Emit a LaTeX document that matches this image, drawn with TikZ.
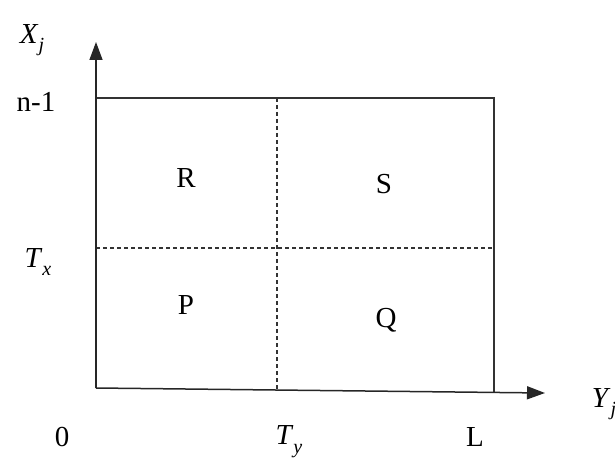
\documentclass[tikz,border=0pt]{standalone}
\usepackage{fontspec}
\setmainfont{Liberation Serif}
\usetikzlibrary{arrows.meta}
\newcommand{\vlab}[2]{\textit{#1}\raisebox{-0.3em}{\fontsize{20}{22}\selectfont\textit{#2}}}
\begin{document}
\begin{tikzpicture}[x=1pt,y=-1pt,
  lbl/.style={font=\fontsize{29}{32}\selectfont, inner sep=0pt},
  axis/.style={line width=1.5pt, draw=black!85, -{Triangle[length=18pt,width=13pt]}},
  frame/.style={line width=1.3pt, draw=black!80},
  div/.style={line width=1.1pt, dash pattern=on 4pt off 3pt, draw=black!80}]
\useasboundingbox (0,0) rectangle (615,465);
\coordinate (O) at (96,388);
\coordinate (ytop) at (96,42);
\coordinate (xend) at (545,393);
\coordinate (TL) at (96,98);
\coordinate (TR) at (494,98);
\coordinate (BR) at (494,392);
\coordinate (vt) at (277,98);
\coordinate (vb) at (277,391);
\coordinate (hl) at (96,248);
\coordinate (hr) at (494,248);
\draw[frame] (TL) -- (TR) -- (BR);
\draw[div] (vt) -- (vb);
\draw[div] (hl) -- (hr);
\draw[axis] (O) -- (ytop);
\draw[axis] (O) -- (xend);
\node[lbl] (xj) at (32,40) {\vlab{X}{j}};
\node[lbl] (n1) at (36,102) {n-1};
\node[lbl] (tx) at (38,262) {\vlab{T}{x}};
\node[lbl] (zero) at (62,437) {0};
\node[lbl] (ty) at (289,442) {\vlab{T}{y}};
\node[lbl] (l) at (475,437) {L};
\node[lbl] (yj) at (604,404) {\vlab{Y}{j}};
\node[lbl] (r) at (186,178) {R};
\node[lbl] (s) at (384,184) {S};
\node[lbl] (p) at (186,305) {P};
\node[lbl] (q) at (386,320) {Q};
\end{tikzpicture}
\end{document}
